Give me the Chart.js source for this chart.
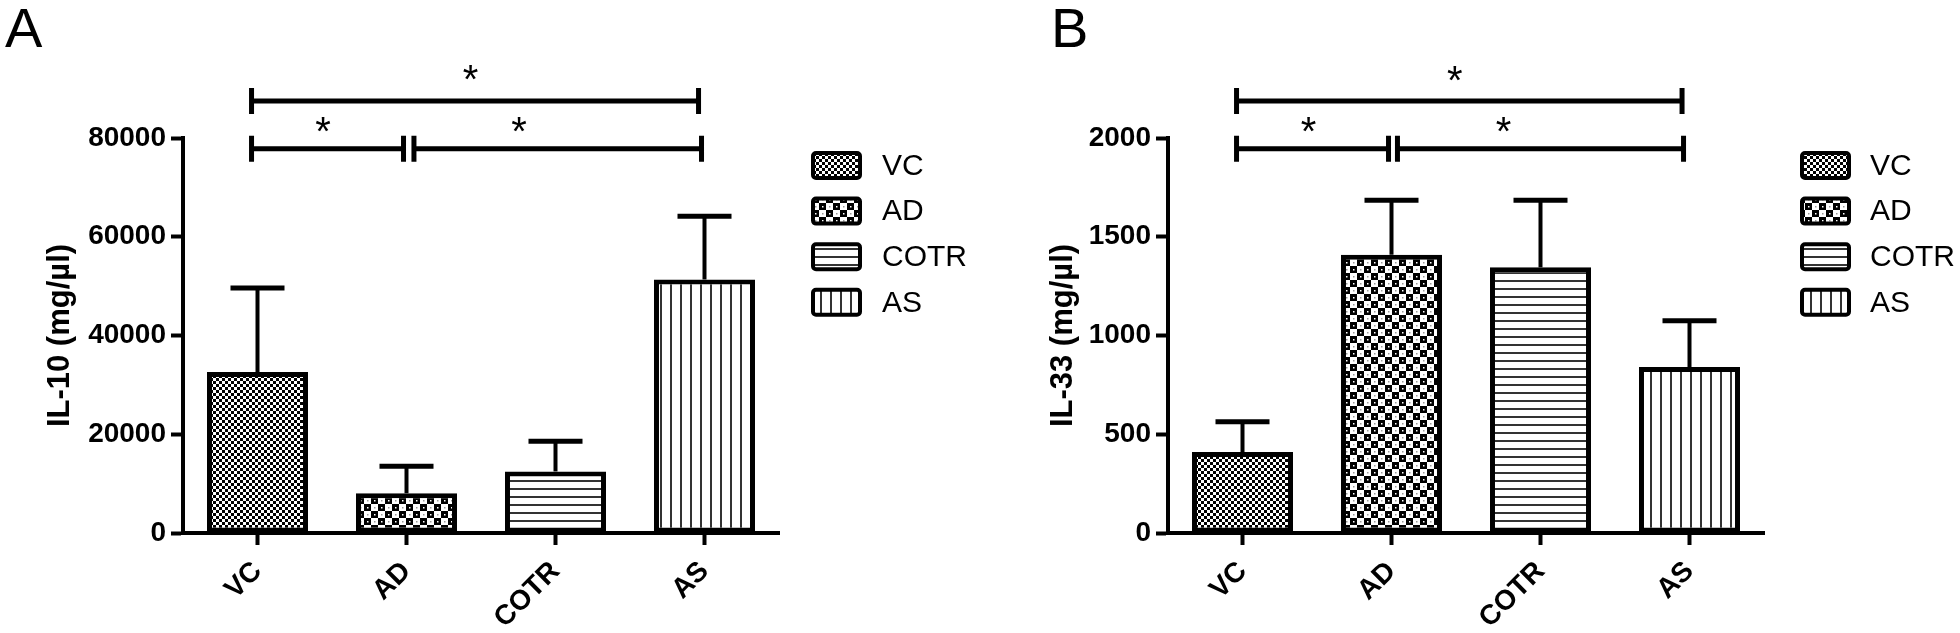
<!DOCTYPE html>
<html>
<head>
<meta charset="utf-8">
<title>IL-10 / IL-33</title>
<script src="https://cdn.jsdelivr.net/npm/chart.js"></script>
<style>
  body { margin: 0; background: #fff; width: 1960px; height: 633px; overflow: hidden; position: relative; font-family: 'Liberation Sans', Arial, sans-serif; }
  canvas { position: absolute; top: 0; }
  #chartA { left: 0; }
  #chartB { left: 1000px; }
  .panel-letter { position: absolute; top: 0; font-size: 56px; line-height: 56px; color: #000; }
</style>
</head>
<body>
<div class="panel-letter" style="left:5px">A</div>
<div class="panel-letter" style="left:1051px">B</div>
<canvas id="chartA" width="1000" height="633"></canvas>
<canvas id="chartB" width="960" height="633"></canvas>
<script>
// groups on the x axis
const groups = ['VC', 'AD', 'COTR', 'AS'];

// IL-10 (panel A), mean and upper error
const il10Mean = [32600, 8050, 12470, 51350];
const il10Err = [17000, 5480, 6130, 12780];
const il10Ticks = [0, 20000, 40000, 60000, 80000];

// IL-33 (panel B), mean and upper error
const il33Mean = [410, 1409, 1345, 840];
const il33Err = [153, 276, 340, 235];
const il33Ticks = [0, 500, 1000, 1500, 2000];

// significance brackets: from / to in group units, level in data units, star position
const il10Sig = [
  { from: -0.04, to: 2.96, level: 87500, star: 1.43 },
  { from: -0.04, to: 0.98, level: 77800, star: 0.44 },
  { from: 1.05, to: 2.98, level: 77800, star: 1.755 }
];
const il33Sig = [
  { from: -0.04, to: 2.95, level: 2187, star: 1.425 },
  { from: -0.04, to: 0.98, level: 1945, star: 0.443 },
  { from: 1.04, to: 2.96, level: 1945, star: 1.752 }
];

const FONT = "'Liberation Sans', Arial, sans-serif";
Chart.defaults.font.family = FONT;
Chart.defaults.color = '#000';

// fill patterns for each group
function makePattern(size, drawTile) {
  const c = document.createElement('canvas');
  c.width = size[0];
  c.height = size[1];
  const g = c.getContext('2d');
  g.fillStyle = '#fff';
  g.fillRect(0, 0, c.width, c.height);
  drawTile(g);
  return document.createElement('canvas').getContext('2d').createPattern(c, 'repeat');
}

const patterns = [
  // VC: fine checker
  makePattern([6, 6], g => {
    g.fillStyle = '#000';
    g.fillRect(0, 0, 3, 3);
    g.fillRect(3, 3, 3, 3);
  }),
  // AD: coarse checker with dots
  makePattern([14, 14], g => {
    g.fillStyle = '#000';
    g.fillRect(0, 0, 7, 7);
    g.fillRect(7, 7, 7, 7);
    g.fillStyle = '#fff';
    g.fillRect(3, 3, 1.5, 1.5);
    g.fillRect(10, 10, 1.5, 1.5);
    g.fillStyle = '#999';
    g.fillRect(10, 3, 1.5, 1.5);
    g.fillRect(3, 10, 1.5, 1.5);
  }),
  // COTR: horizontal lines
  makePattern([8, 8], g => {
    g.fillStyle = '#333';
    g.fillRect(0, 0, 8, 2);
  }),
  // AS: vertical lines
  makePattern([10, 10], g => {
    g.fillStyle = '#333';
    g.fillRect(0, 0, 2, 10);
  })
];

const errorBarPlugin = {
  id: 'errorBars',
  afterDatasetsDraw(chart, args, opts) {
    const ctx = chart.ctx;
    const y = chart.scales.y;
    const meta = chart.getDatasetMeta(0);
    const means = chart.data.datasets[0].data;
    ctx.save();
    ctx.strokeStyle = '#000';
    meta.data.forEach((bar, i) => {
      const top = y.getPixelForValue(means[i] + opts.err[i]);
      ctx.lineWidth = 4;
      ctx.beginPath();
      ctx.moveTo(bar.x, bar.y);
      ctx.lineTo(bar.x, top);
      ctx.stroke();
      ctx.lineWidth = 5;
      ctx.beginPath();
      ctx.moveTo(bar.x - 27, top);
      ctx.lineTo(bar.x + 27, top);
      ctx.stroke();
    });
    ctx.restore();
  }
};

const bracketPlugin = {
  id: 'brackets',
  afterDraw(chart, args, opts) {
    const ctx = chart.ctx;
    const x = chart.scales.x;
    const y = chart.scales.y;
    ctx.save();
    ctx.strokeStyle = '#000';
    ctx.fillStyle = '#000';
    ctx.lineWidth = 5;
    ctx.font = '40px ' + FONT;
    ctx.textAlign = 'center';
    opts.items.forEach((b, i) => {
      const x1 = x.getPixelForValue(b.from);
      const x2 = x.getPixelForValue(b.to);
      const yy = y.getPixelForValue(b.level);
      ctx.beginPath();
      ctx.moveTo(x1, yy);
      ctx.lineTo(x2, yy);
      ctx.moveTo(x1, yy - 13);
      ctx.lineTo(x1, yy + 13);
      ctx.moveTo(x2, yy - 13);
      ctx.lineTo(x2, yy + 13);
      ctx.stroke();
      const m = ctx.measureText('*');
      const cy = yy - opts.starGap[i];
      ctx.fillText('*', x.getPixelForValue(b.star), cy + (m.actualBoundingBoxAscent - m.actualBoundingBoxDescent) / 2);
    });
    ctx.restore();
  }
};

const legendPlugin = {
  id: 'patternLegend',
  afterDraw(chart, args, opts) {
    const ctx = chart.ctx;
    const left = chart.chartArea.right + opts.boxX;
    ctx.save();
    ctx.font = '30px ' + FONT;
    ctx.textBaseline = 'middle';
    ctx.textAlign = 'left';
    chart.data.labels.forEach((label, i) => {
      const cy = opts.top + i * opts.step;
      ctx.fillStyle = patterns[i];
      ctx.beginPath();
      ctx.roundRect(left, cy - 12.5, 47, 25, 3);
      ctx.fill();
      ctx.lineWidth = 4;
      ctx.strokeStyle = '#000';
      ctx.stroke();
      ctx.fillStyle = '#000';
      ctx.fillText(label, chart.chartArea.right + opts.textX, cy + 1);
    });
    ctx.restore();
  }
};

function buildChart(id, means, errs, ticks, sig, title, axisLeft, padRight, titlePad, legendPos) {
  return new Chart(document.getElementById(id), {
    type: 'bar',
    data: {
      labels: groups,
      datasets: [{
        data: means,
        backgroundColor: patterns,
        borderColor: '#000',
        borderWidth: 5,
        borderSkipped: false,
        barPercentage: 0.678,
        categoryPercentage: 1
      }]
    },
    options: {
      responsive: false,
      animation: false,
      devicePixelRatio: 1,
      layout: { padding: { left: 0, top: 138, right: padRight, bottom: 0 } },
      plugins: {
        legend: { display: false },
        tooltip: { enabled: false },
        errorBars: { err: errs },
        brackets: { items: sig, starGap: [28, 24.5, 24.5] },
        patternLegend: legendPos
      },
      scales: {
        x: {
          offset: true,
          grid: { drawOnChartArea: false, offset: false, tickLength: 12, tickWidth: 4, tickColor: '#000' },
          border: { display: true, width: 4, color: '#000' },
          ticks: { font: { size: 28, weight: 'bold' }, color: '#000', minRotation: 45, maxRotation: 45, autoSkip: false, padding: 10 },
          afterFit(scale) { scale.height = 100; }
        },
        y: {
          min: ticks[0],
          max: ticks[ticks.length - 1],
          afterBuildTicks(scale) { scale.ticks = ticks.map(v => ({ value: v })); },
          grid: { drawOnChartArea: false, tickLength: 12, tickWidth: 4, tickColor: '#000' },
          border: { display: true, width: 4, color: '#000' },
          ticks: { font: { size: 28, weight: 'bold' }, color: '#000', padding: 5, callback: v => String(v) },
          title: { display: true, text: title, font: { size: 31, weight: 'bold' }, color: '#000', padding: { top: titlePad, bottom: 0 } },
          afterFit(scale) { scale.width = axisLeft; }
        }
      }
    },
    plugins: [errorBarPlugin, bracketPlugin, legendPlugin]
  });
}

buildChart('chartA', il10Mean, il10Err, il10Ticks, il10Sig, 'IL-10 (mg/µl)', 183, 221, 42,
  { boxX: 34, textX: 103, top: 165.5, step: 45.6 });
buildChart('chartB', il33Mean, il33Err, il33Ticks, il33Sig, 'IL-33 (mg/µl)', 168, 196, 45,
  { boxX: 38, textX: 106, top: 165.5, step: 45.6 });
</script>
</body>
</html>
